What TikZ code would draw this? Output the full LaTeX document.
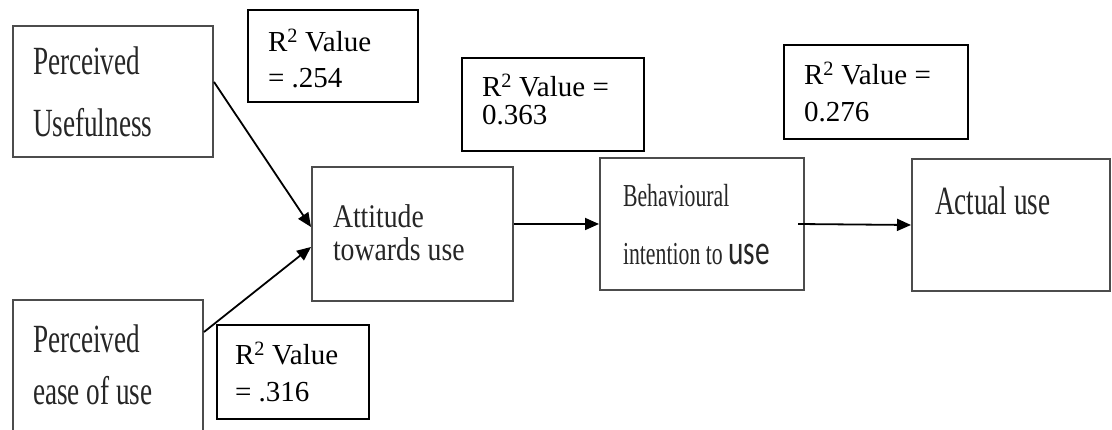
\documentclass[tikz,border=0pt]{standalone}
\usepackage{fontspec}
\setmainfont{Liberation Serif}
\newfontfamily\factorfont[FakeStretch=0.68]{Liberation Serif}
\newfontfamily\attitudefont[FakeStretch=0.84]{Liberation Serif}
\newfontfamily\usesans[FakeStretch=0.7]{Carlito}
\usetikzlibrary{arrows.meta}

\tikzset{
  factor/.style={draw=black!70, line width=2pt, text=black!85, align=flush left, inner ysep=0pt},
  rsq/.style={draw, line width=1.3pt, align=flush left, inner ysep=0pt},
  link/.style={line width=1.8pt, -{Triangle[length=14pt,width=12pt]}},
}

\begin{document}
\begin{tikzpicture}[x=1pt, y=-1pt]
  \clip (0,0) rectangle (1112,430);
  % constructs of the model
  \node[factor, minimum width=200pt, minimum height=131pt, text width=160pt, inner xsep=20pt,
    text height=26pt, text depth=59pt, font=\fontsize{40}{62}\factorfont] (pu) at (113,91.5) {Perceived\\Usefulness};
  \node[factor, minimum width=190pt, minimum height=140pt, text width=150pt, inner xsep=20pt,
    text height=26pt, text depth=60pt, font=\fontsize{40}{52}\factorfont] (peou) at (108,370) {Perceived\\ease of use};
  \node[factor, minimum width=201pt, minimum height=134pt, text width=159pt, inner xsep=21pt,
    text height=22pt, text depth=34pt, font=\fontsize{33}{33}\attitudefont] (atu) at (412.5,234) {Attitude\\towards use};
  \node[factor, minimum width=204pt, minimum height=132pt, text width=158pt, inner xsep=23pt,
    text height=22pt, text depth=56pt, font=\fontsize{32}{58}\factorfont] (bi) at (702,224) {Behavioural\\intention to {\fontsize{42}{58}\usesans use}};
  \node[factor, minimum width=198pt, minimum height=132pt, text width=152pt, inner xsep=23pt,
    text height=27pt, text depth=47pt, font=\fontsize{40}{46}\factorfont] (act) at (1011,225) {Actual use};
  % R squared values
  \node[rsq, minimum width=170pt, minimum height=92pt, text width=130pt, inner xsep=20pt,
    text height=20pt, text depth=28pt, font=\fontsize{29}{36}\selectfont] (rpu) at (333,56) {R\textsuperscript{2} Value\\= .254};
  \node[rsq, minimum width=152pt, minimum height=94pt, text width=116pt, inner xsep=18pt,
    text height=20pt, text depth=34pt, font=\fontsize{29}{37}\selectfont] (rpeou) at (293,372) {R\textsuperscript{2} Value\\= .316};
  \node[rsq, minimum width=182pt, minimum height=93pt, text width=142pt, inner xsep=20pt,
    text height=20pt, text depth=35pt, font=\fontsize{29}{28}\selectfont] (ratu) at (553,104.5) {R\textsuperscript{2} Value =\\0.363};
  \node[rsq, minimum width=184pt, minimum height=94pt, text width=144pt, inner xsep=20pt,
    text height=20pt, text depth=34pt, font=\fontsize{29}{37}\selectfont] (rbi) at (876,92) {R\textsuperscript{2} Value =\\0.276};
  % paths
  \draw[link] ([yshift=9.5pt]pu.east) -- ([yshift=7pt]atu.west);
  \draw[link] ([yshift=38pt]peou.east) -- ([yshift=-13pt]atu.west);
  \draw[link] (atu.east |- bi.west) -- (bi.west);
  \draw[link] ([xshift=-7pt]bi.east) -- (act.west);
\end{tikzpicture}
\end{document}
